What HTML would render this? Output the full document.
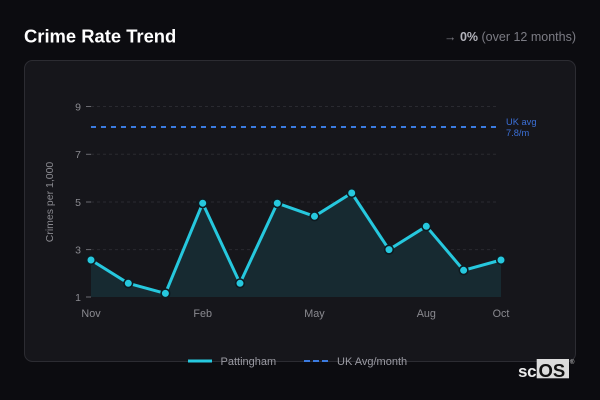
<!DOCTYPE html>
<html>
<head>
<meta charset="utf-8">
<style>
  html,body{margin:0;padding:0;background:#0c0c10;}
  body{width:600px;height:400px;overflow:hidden;font-family:"Liberation Sans",sans-serif;}
  svg{display:block;}
</style>
</head>
<body>
<svg width="600" height="400" viewBox="0 0 600 400" xmlns="http://www.w3.org/2000/svg" font-family="Liberation Sans, sans-serif">
  <rect x="0" y="0" width="600" height="400" fill="#0c0c10"/>
  <!-- Title -->
  <text x="24" y="42.7" font-size="18.4" font-weight="bold" fill="#ffffff">Crime Rate Trend</text>
  <text x="576" y="41" font-size="12.5" fill="#7c7c84" text-anchor="end">→ <tspan font-weight="bold" fill="#b4b4bc">0%</tspan> (over 12 months)</text>

  <!-- Card -->
  <rect x="24.5" y="60.5" width="551" height="301" rx="8" ry="8" fill="#16161b" stroke="#2c2c32" stroke-width="1"/>

  <!-- Gridlines -->
  <g stroke="#2a2a30" stroke-width="1" stroke-dasharray="3,3">
    <line x1="91" y1="106.5" x2="497" y2="106.5"/>
    <line x1="91" y1="154.3" x2="497" y2="154.3"/>
    <line x1="91" y1="202" x2="497" y2="202"/>
    <line x1="91" y1="249.6" x2="497" y2="249.6"/>
  </g>
  <!-- ticks -->
  <g stroke="#6a6a70" stroke-width="1">
    <line x1="86" y1="106.5" x2="91" y2="106.5"/>
    <line x1="86" y1="154.3" x2="91" y2="154.3"/>
    <line x1="86" y1="202" x2="91" y2="202"/>
    <line x1="86" y1="249.6" x2="91" y2="249.6"/>
    <line x1="86" y1="297" x2="91" y2="297"/>
  </g>
  <g font-size="10.5" fill="#8a8a90" text-anchor="end">
    <text x="81" y="110.3">9</text>
    <text x="81" y="158.1">7</text>
    <text x="81" y="205.8">5</text>
    <text x="81" y="253.4">3</text>
    <text x="81" y="300.8">1</text>
  </g>
  <text transform="translate(53,202) rotate(-90)" font-size="10.5" fill="#8a8a90" text-anchor="middle">Crimes per 1,000</text>

  <!-- X labels -->
  <g font-size="10.8" fill="#8a8a90" text-anchor="middle">
    <text x="91" y="317">Nov</text>
    <text x="202.7" y="317">Feb</text>
    <text x="314.5" y="317">May</text>
    <text x="426.3" y="317">Aug</text>
    <text x="501" y="317">Oct</text>
  </g>

  <!-- Area -->
  <path d="M91,260 L128.3,283.3 L165.4,293.4 L202.7,203.2 L240,283.3 L277.3,203.2 L314.5,216.3 L351.7,193 L389,249.6 L426.3,226.3 L463.6,270.3 L501,260 L501,297 L91,297 Z" fill="#172a31"/>
  <!-- UK avg line -->
  <line x1="91" y1="127" x2="497" y2="127" stroke="#3b7be0" stroke-width="2" stroke-dasharray="5,5"/>
  <text x="506" y="125" font-size="9.3" fill="#3b6fd6">UK avg</text>
  <text x="506" y="135.8" font-size="9.3" fill="#3b6fd6">7.8/m</text>

  <!-- Series line -->
  <polyline points="91,260 128.3,283.3 165.4,293.4 202.7,203.2 240,283.3 277.3,203.2 314.5,216.3 351.7,193 389,249.6 426.3,226.3 463.6,270.3 501,260" fill="none" stroke="#26c8de" stroke-width="3" stroke-linejoin="round"/>
  <g fill="#26c8de" stroke="#0e1a20" stroke-width="1.6">
    <circle cx="91" cy="260" r="4.3"/>
    <circle cx="128.3" cy="283.3" r="4.3"/>
    <circle cx="165.4" cy="293.4" r="4.3"/>
    <circle cx="202.7" cy="203.2" r="4.3"/>
    <circle cx="240" cy="283.3" r="4.3"/>
    <circle cx="277.3" cy="203.2" r="4.3"/>
    <circle cx="314.5" cy="216.3" r="4.3"/>
    <circle cx="351.7" cy="193" r="4.3"/>
    <circle cx="389" cy="249.6" r="4.3"/>
    <circle cx="426.3" cy="226.3" r="4.3"/>
    <circle cx="463.6" cy="270.3" r="4.3"/>
    <circle cx="501" cy="260" r="4.3"/>
  </g>

  <!-- Legend -->
  <line x1="188" y1="361" x2="212" y2="361" stroke="#26c8de" stroke-width="3"/>
  <text x="220.5" y="365" font-size="11" fill="#9a9aa2">Pattingham</text>
  <line x1="304" y1="361" x2="328" y2="361" stroke="#3b7be0" stroke-width="2" stroke-dasharray="6,3"/>
  <text x="337" y="365" font-size="11" fill="#9a9aa2">UK Avg/month</text>

  <!-- Logo -->
  <rect x="536.7" y="359" width="32.3" height="19.3" fill="#dcdcdc"/>
  <text x="518" y="377" font-size="17" font-weight="bold" fill="#ececec" letter-spacing="-0.3">sc</text>
  <text x="538.5" y="377" font-size="18.5" font-weight="bold" fill="#111111">OS</text>
  <text x="570" y="364" font-size="6" fill="#cfcfcf">®</text>
</svg>
</body>
</html>
